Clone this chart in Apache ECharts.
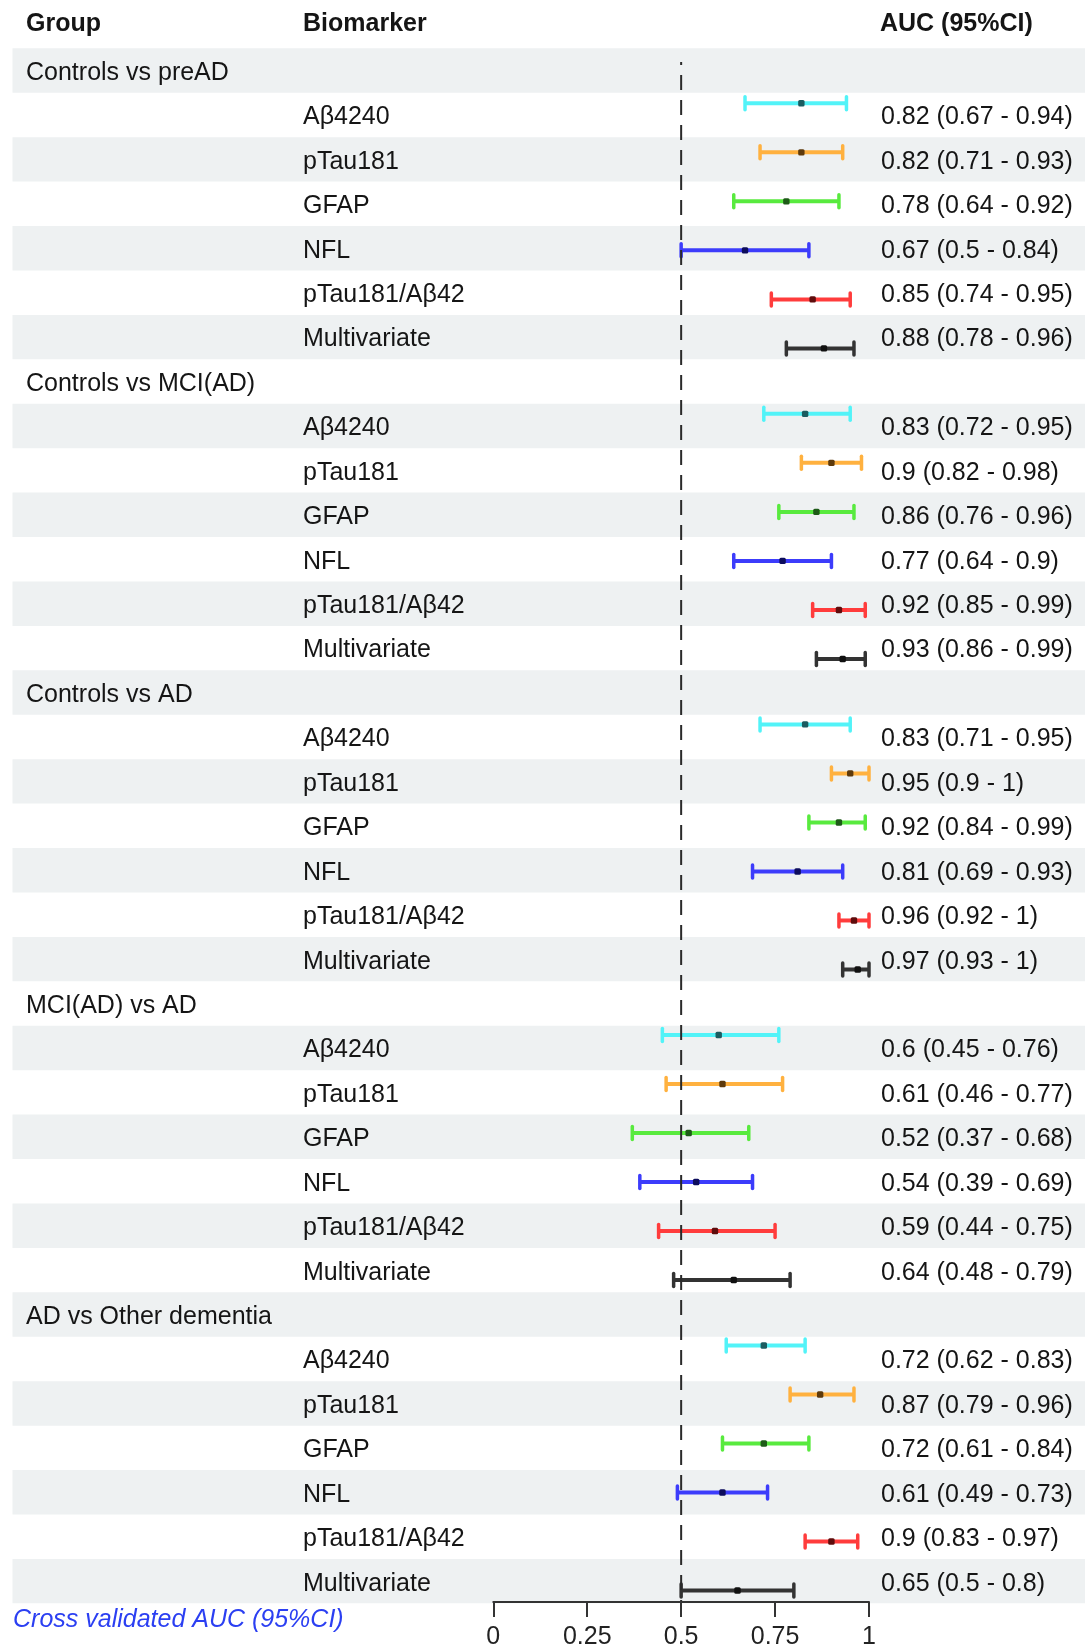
<!DOCTYPE html>
<html><head><meta charset="utf-8">
<script src="https://cdn.jsdelivr.net/npm/echarts@6/dist/echarts.min.js"></script>
<style>html,body{margin:0;padding:0;background:#fff}#c{width:1085px;height:1650px}</style>
</head><body><div id="c"></div>
<script>
// ---------- data ----------
const groups = ['Controls vs preAD', 'Controls vs MCI(AD)', 'Controls vs AD', 'MCI(AD) vs AD', 'AD vs Other dementia'];
const biomarkers = ['Aβ4240', 'pTau181', 'GFAP', 'NFL', 'pTau181/Aβ42', 'Multivariate'];
const aucEstimate = [
  [0.82, 0.82, 0.78, 0.67, 0.85, 0.88],
  [0.83, 0.9, 0.86, 0.77, 0.92, 0.93],
  [0.83, 0.95, 0.92, 0.81, 0.96, 0.97],
  [0.6, 0.61, 0.52, 0.54, 0.59, 0.64],
  [0.72, 0.87, 0.72, 0.61, 0.9, 0.65]
];
const aucLower = [
  [0.67, 0.71, 0.64, 0.5, 0.74, 0.78],
  [0.72, 0.82, 0.76, 0.64, 0.85, 0.86],
  [0.71, 0.9, 0.84, 0.69, 0.92, 0.93],
  [0.45, 0.46, 0.37, 0.39, 0.44, 0.48],
  [0.62, 0.79, 0.61, 0.49, 0.83, 0.5]
];
const aucUpper = [
  [0.94, 0.93, 0.92, 0.84, 0.95, 0.96],
  [0.95, 0.98, 0.96, 0.9, 0.99, 0.99],
  [0.95, 1, 0.99, 0.93, 1, 1],
  [0.76, 0.77, 0.68, 0.69, 0.75, 0.79],
  [0.83, 0.96, 0.84, 0.73, 0.97, 0.8]
];
const xTicks = [0, 0.25, 0.5, 0.75, 1];
const refValue = 0.5;
const headers = ['Group', 'Biomarker', 'AUC (95%CI)'];
const footnote = 'Cross validated AUC (95%CI)';

// ---------- styles ----------
const FONT = '"Liberation Sans", Arial, Helvetica, sans-serif';
const lineColors = ['#52f3f8', '#ffb13f', '#58ea3e', '#3c3cfb', '#ff3c3c', '#333333'];
const pointColors = ['#1a5c60', '#5e3a0c', '#1d5a17', '#0c0c5c', '#5e0c0c', '#111111'];
const bandColor = '#eef1f2';
const TEXT = '#151515';
const colX = { group: 26, biomarker: 303, auc: 881 };
const rowsPerGroup = biomarkers.length + 1;
const nRows = groups.length * rowsPerGroup;
const gridTop = 48.3, rowH = 44.43;
const barOffset = 0.74, barStep = 1.105;

// build table rows
const tableRows = [];
groups.forEach((g, gi) => {
  tableRows.push({ kind: 'group', text: g });
  biomarkers.forEach((b, bi) => {
    tableRows.push({
      kind: 'item', text: b,
      auc: `${aucEstimate[gi][bi]} (${aucLower[gi][bi]} - ${aucUpper[gi][bi]})`
    });
  });
});
const tableData = tableRows.map((r, i) => [i]);

// forest data: [y, lo, est, hi, colorIdx]
const forestData = [];
groups.forEach((g, gi) => {
  biomarkers.forEach((b, bi) => {
    forestData.push([gi * rowsPerGroup + barOffset + bi * barStep, aucLower[gi][bi], aucEstimate[gi][bi], aucUpper[gi][bi], bi]);
  });
});

const chart = echarts.init(document.getElementById('c'), null, { renderer: 'canvas' });
const yAxisCommon = { type: 'value', inverse: true, min: -0.5, max: nRows - 0.5, show: false };

chart.setOption({
  animation: false,
  backgroundColor: '#ffffff',
  grid: [
    { left: 12.5, right: 0, top: gridTop, height: nRows * rowH },
    { left: 493.3, width: 375.7, top: gridTop, height: nRows * rowH }
  ],
  xAxis: [
    { gridIndex: 0, type: 'value', min: 0, max: 1, show: false },
    {
      gridIndex: 1, type: 'value', min: 0, max: 1, interval: 0.25, position: 'bottom', z: 20, offset: 1,
      axisLine: { show: true, onZero: false, lineStyle: { color: '#333', width: 2 } },
      axisTick: { show: true, inside: false, length: 15, lineStyle: { color: '#333', width: 2 } },
      axisLabel: {
        show: true, fontSize: 25, color: '#222', margin: 23, fontFamily: FONT,
        formatter: v => { const t = xTicks.find(x => Math.abs(x - v) < 1e-9); return t === undefined ? '' : String(t); }
      },
      splitLine: { show: false }
    }
  ],
  yAxis: [Object.assign({ gridIndex: 0 }, yAxisCommon), Object.assign({ gridIndex: 1 }, yAxisCommon)],
  graphic: [
    { type: 'text', x: colX.group, y: 24, style: { text: headers[0], font: `bold 25px ${FONT}`, fill: TEXT, verticalAlign: 'middle' } },
    { type: 'text', x: colX.biomarker, y: 24, style: { text: headers[1], font: `bold 25px ${FONT}`, fill: TEXT, verticalAlign: 'middle' } },
    { type: 'text', x: colX.auc - 1, y: 24, style: { text: headers[2], font: `bold 25px ${FONT}`, fill: TEXT, verticalAlign: 'middle' } },
    { type: 'text', x: 13, y: 1620, style: { text: footnote, font: `italic 25px ${FONT}`, fill: '#2b3ff2', verticalAlign: 'middle' } }
  ],
  series: [
    {
      type: 'custom', xAxisIndex: 0, yAxisIndex: 0, z: 1, silent: true, clip: false,
      data: tableData, encode: { y: 0 },
      renderItem: (params, api) => {
        const i = api.value(0);
        const row = tableRows[params.dataIndex];
        const cs = params.coordSys;
        const top = api.coord([0, i - 0.5])[1];
        const bot = api.coord([0, i + 0.5])[1];
        const cy = (top + bot) / 2 + 2.5;
        const children = [];
        if (i % 2 === 0) {
          children.push({ type: 'rect', shape: { x: cs.x, y: top, width: cs.width, height: bot - top }, style: { fill: bandColor } });
        }
        const font = `25px ${FONT}`;
        if (row.kind === 'group') {
          children.push({ type: 'text', x: colX.group, y: cy, style: { text: row.text, font, fill: TEXT, verticalAlign: 'middle' } });
        } else {
          children.push({ type: 'text', x: colX.biomarker, y: cy, style: { text: row.text, font, fill: TEXT, verticalAlign: 'middle' } });
          children.push({ type: 'text', x: colX.auc, y: cy, style: { text: row.auc, font, fill: TEXT, verticalAlign: 'middle' } });
        }
        return { type: 'group', children };
      }
    },
    {
      type: 'custom', xAxisIndex: 1, yAxisIndex: 1, z: 5, silent: true, clip: false,
      data: forestData, encode: { x: [1, 2, 3], y: 0 },
      renderItem: (params, api) => {
        const y = api.value(0), lo = api.value(1), est = api.value(2), hi = api.value(3), ci = api.value(4);
        const pL = api.coord([lo, y]), pH = api.coord([hi, y]), pE = api.coord([est, y]);
        const col = lineColors[ci], pc = pointColors[ci];
        return {
          type: 'group', children: [
            { type: 'line', shape: { x1: pL[0], y1: pL[1], x2: pH[0], y2: pH[1] }, style: { stroke: col, lineWidth: 4 } },
            { type: 'line', shape: { x1: pL[0], y1: pL[1] - 6.5, x2: pL[0], y2: pL[1] + 6.5 }, style: { stroke: col, lineWidth: 3.5, lineCap: 'round' } },
            { type: 'line', shape: { x1: pH[0], y1: pH[1] - 6.5, x2: pH[0], y2: pH[1] + 6.5 }, style: { stroke: col, lineWidth: 3.5, lineCap: 'round' } },
            { type: 'rect', shape: { x: pE[0] - 3.2, y: pE[1] - 3.2, width: 6.4, height: 6.4, r: 1.5 }, style: { fill: pc } }
          ]
        };
      }
    },
    {
      type: 'custom', xAxisIndex: 1, yAxisIndex: 1, z: 10, silent: true, clip: false,
      data: [[refValue]], encode: { x: 0 },
      renderItem: (params, api) => {
        const p1 = api.coord([api.value(0), -0.19]);
        const p2 = api.coord([api.value(0), nRows - 0.5]);
        return {
          type: 'line', shape: { x1: p1[0], y1: p1[1], x2: p2[0], y2: p2[1] },
          style: { stroke: '#2a2a2a', lineWidth: 2, lineDash: [15, 10], lineDashOffset: 12 }
        };
      }
    }
  ]
});
</script>
</body></html>
